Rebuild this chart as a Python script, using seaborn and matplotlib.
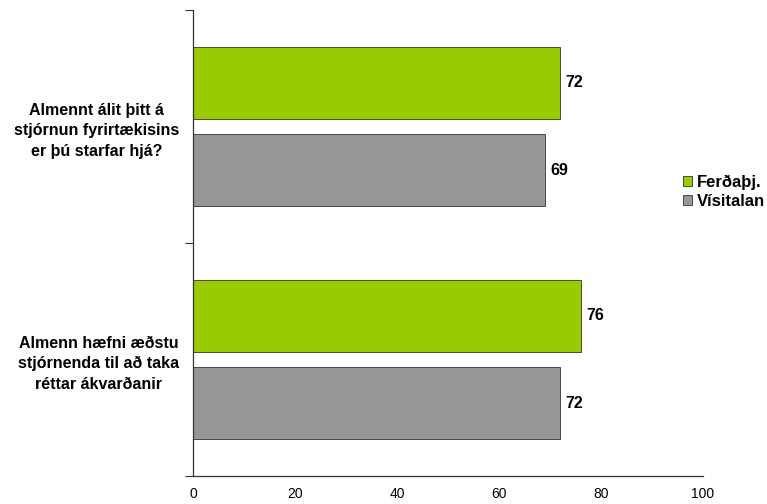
import pandas as pd
import seaborn as sns
import matplotlib.pyplot as plt

# Gögn lesin af myndinni
questions = [
    "Almennt álit þitt á\nstjórnun fyrirtækisins\ner þú starfar hjá?",
    "Almenn hæfni æðstu\nstjórnenda til að taka\nréttar ákvarðanir",
]
groups = ["Ferðaþj.", "Vísitalan"]
ferdathj = [72, 76]
visitalan = [69, 72]
xticks = [0, 20, 40, 60, 80, 100]

colors = ["#99CC00", "#969696"]

df = pd.DataFrame({
    "question": questions * 2,
    "group": [groups[0]] * 2 + [groups[1]] * 2,
    "value": ferdathj + visitalan,
})

sns.set_style("white")
plt.rcParams["font.family"] = ["Liberation Sans", "DejaVu Sans"]
plt.rcParams["text.color"] = "black"
plt.rcParams["xtick.color"] = "black"
plt.rcParams["ytick.color"] = "black"

fig = plt.figure(figsize=(7.67, 5.04), dpi=100)
ax = fig.add_axes([193 / 767, 28 / 504, 510 / 767, 466 / 504])

sns.barplot(
    data=df, x="value", y="question", hue="group", orient="h",
    palette=colors, saturation=1, width=0.747, gap=0.172,
    edgecolor="#333333", linewidth=0.6, ax=ax, legend=False,
)

# Gildi við enda stöplanna
for cont in ax.containers:
    ax.bar_label(cont, padding=4, fontsize=11.5, fontweight="bold", color="black")

ax.set_xlim(0, 100)
ax.set_ylim(1.5, -0.5)
ax.set_xticks(xticks)
ax.set_xticklabels([str(v) for v in xticks], fontsize=10)
ax.tick_params(axis="x", length=0, pad=8)

# Hak á mörkum flokka, flokkaheiti sem minor ticks
ax.set_yticks([-0.5, 0.5, 1.5])
ax.set_yticklabels(["", "", ""])
ax.tick_params(axis="y", which="major", length=6, width=0.8, color="#333333", direction="out", left=True)
ax.set_yticks([0, 1], minor=True)
ax.set_yticklabels(questions, minor=True, fontsize=11.5, fontweight="bold")
ax.tick_params(axis="y", which="minor", length=0, pad=10)
for t in ax.get_yticklabels(minor=True):
    t.set_multialignment("center")
    t.set_linespacing(1.45)

ax.set_xlabel("")
ax.set_ylabel("")
sns.despine(ax=ax)
for s in ["left", "bottom"]:
    ax.spines[s].set_color("#333333")
    ax.spines[s].set_linewidth(0.9)

handles = [plt.Rectangle((0, 0), 1, 1, facecolor=c, edgecolor="#333333", linewidth=0.6) for c in colors]
ax.legend(
    handles, groups, loc="center left", bbox_to_anchor=(0.961, 0.61),
    frameon=False, borderaxespad=0, borderpad=0,
    handlelength=0.56, handleheight=0.56, handletextpad=0.25, labelspacing=0.25,
    prop={"weight": "bold", "size": 12},
)

fig.savefig("out.png", dpi=100)
